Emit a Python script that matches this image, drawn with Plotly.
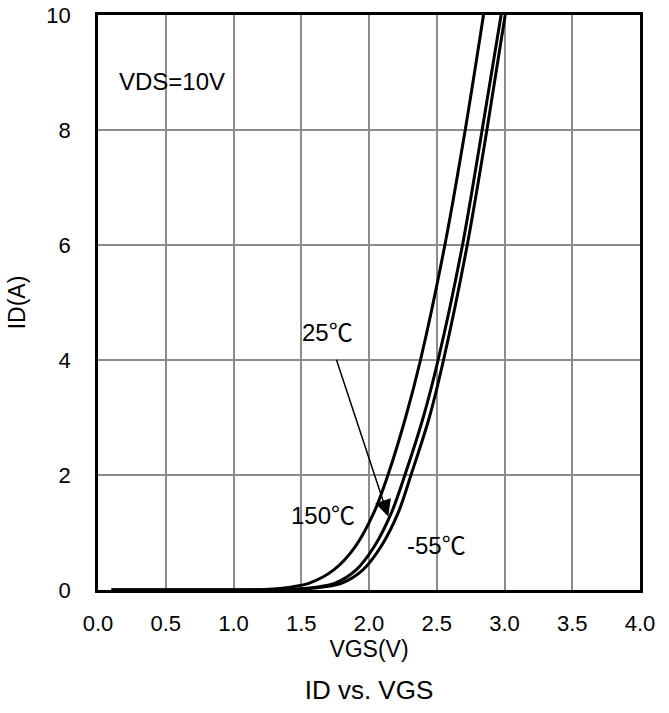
import plotly.graph_objects as go

# Data
id_vals = [0, 0, 0.005, 0.05, 0.12, 0.35, 0.76, 1.34, 2.0, 3.0, 4.0, 6.0, 8.0, 10.0]
vgs_150 = [0.1, 1.0, 1.2, 1.42, 1.56, 1.74, 1.90, 2.035, 2.14, 2.27, 2.38, 2.56, 2.71, 2.845]
vgs_25 = [0.1, 1.0, 1.35, 1.61, 1.75, 1.905, 2.04, 2.165, 2.265, 2.40, 2.51, 2.69, 2.835, 2.975]
vgs_m55 = [0.1, 1.0, 1.4, 1.66, 1.80, 1.955, 2.09, 2.215, 2.31, 2.445, 2.55, 2.725, 2.87, 3.005]

x_ticks = [0.0, 0.5, 1.0, 1.5, 2.0, 2.5, 3.0, 3.5, 4.0]
x_tick_labels = ["0.0", "0.5", "1.0", "1.5", "2.0", "2.5", "3.0", "3.5", "4.0"]
y_ticks = [0, 2, 4, 6, 8, 10]

FONT = "Liberation Sans, Arial, Noto Sans CJK SC, sans-serif"

W, H = 669, 713

fig = go.Figure()
for name, xs in [("150℃", vgs_150), ("25℃", vgs_25), ("-55℃", vgs_m55)]:
    fig.add_trace(go.Scatter(x=xs, y=id_vals, mode="lines", name=name,
                             line=dict(color="black", width=3, shape="spline", smoothing=0.9),
                             showlegend=False, hoverinfo="skip"))

fig.update_layout(
    width=W, height=H,
    margin=dict(l=98, r=669 - 640, t=15, b=713 - 590, autoexpand=False),
    paper_bgcolor="white", plot_bgcolor="white",
    font=dict(family=FONT, size=22, color="black"),
    title=dict(text="ID vs. VGS", x=((98 + 640) / 2) / W, xanchor="center",
               y=1 - 690 / H, yanchor="middle", font=dict(size=26, family=FONT, color="black")),
)
fig.update_xaxes(range=[0, 4], tickvals=x_ticks, ticktext=x_tick_labels, automargin=False,
                 showgrid=True, gridcolor="#8c8c8c", gridwidth=2,
                 showline=True, linecolor="black", linewidth=2.5, mirror=True,
                 zeroline=False, ticks="", ticklabelstandoff=12, ticklabeloverflow="allow",
                 tickfont=dict(size=22),
                 title=dict(text="VGS(V)", standoff=0, font=dict(size=23)))
fig.update_yaxes(range=[0, 10], tickvals=y_ticks, automargin=False,
                 showgrid=True, gridcolor="#8c8c8c", gridwidth=2,
                 showline=True, linecolor="black", linewidth=2.5, mirror=True,
                 zeroline=False, ticks="", ticklabelstandoff=20, ticklabeloverflow="allow",
                 tickfont=dict(size=22),
                 title=dict(text="ID(A)", standoff=15, font=dict(size=23)))

fig.add_annotation(x=0.14, y=8.85, xref="x", yref="y", text="VDS=10V", showarrow=False,
                   xanchor="left", yanchor="middle", font=dict(size=24))
fig.add_annotation(x=1.696, y=4.47, xref="x", yref="y", text="25℃", showarrow=False,
                   xanchor="center", yanchor="middle", font=dict(size=24))
fig.add_annotation(x=1.66, y=1.29, xref="x", yref="y", text="150℃", showarrow=False,
                   xanchor="center", yanchor="middle", font=dict(size=24))
fig.add_annotation(x=2.50, y=0.77, xref="x", yref="y", text="-55℃", showarrow=False,
                   xanchor="center", yanchor="middle", font=dict(size=24))
fig.add_annotation(x=2.142, y=1.28, xref="x", yref="y", ax=1.756, ay=4.03, axref="x", ayref="y",
                   text="", showarrow=True, arrowhead=2, arrowsize=2.2, arrowwidth=1.5,
                   arrowcolor="black")

fig.write_html("out.html", config={"displayModeBar": False},
               post_script="document.body.style.margin='0px';")
